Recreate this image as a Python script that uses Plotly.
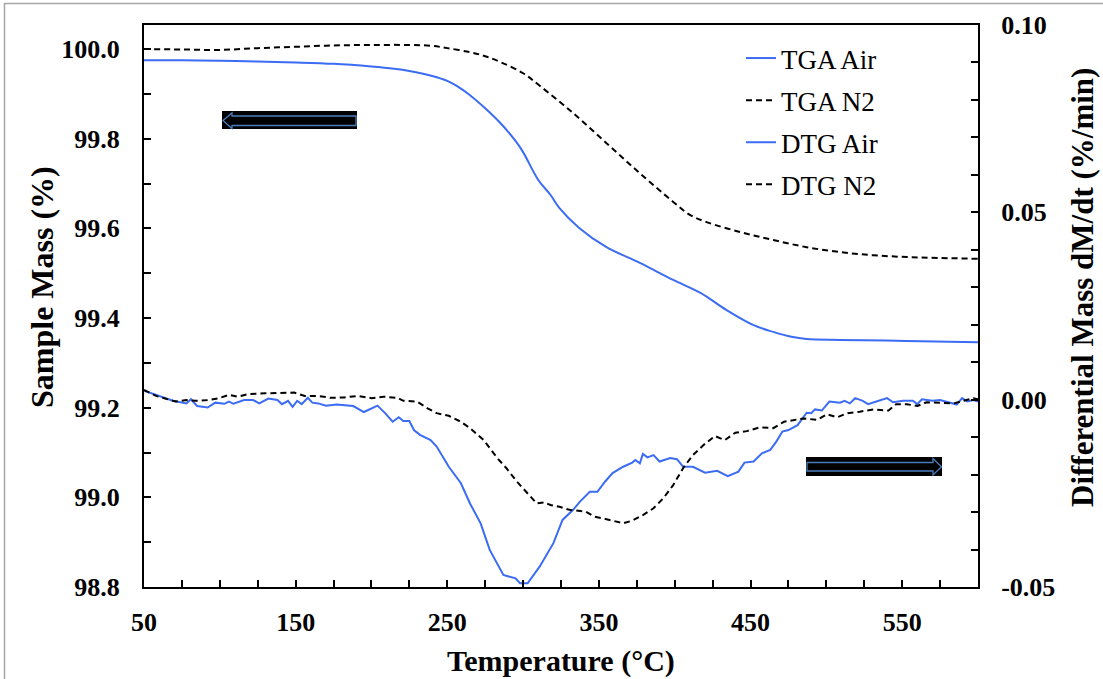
import plotly.graph_objects as go

# ---------------- data ----------------
tga_air_T = [50, 75, 100, 125, 150, 175, 200, 215, 225, 240, 250, 258, 265, 275, 285, 295, 300, 310,
             318, 324, 337, 355, 377, 399, 417, 434, 452, 465, 477, 487, 509, 553, 600]
tga_air_M = [99.975, 99.975, 99.974, 99.972, 99.970, 99.967, 99.961, 99.956, 99.951, 99.940, 99.929,
             99.914, 99.897, 99.868, 99.835, 99.795, 99.770, 99.708, 99.675, 99.645, 99.601, 99.558,
             99.523, 99.485, 99.456, 99.418, 99.384, 99.369, 99.358, 99.353, 99.351, 99.349, 99.346]

tga_n2_T = [50, 75, 100, 125, 150, 175, 200, 225, 240, 250, 265, 275, 285, 300, 311, 332, 355, 377,
            399, 410, 421, 443, 465, 487, 509, 531, 553, 575, 600]
tga_n2_M = [100.000, 99.999, 99.998, 100.002, 100.005, 100.008, 100.009, 100.009, 100.007, 100.002,
            99.993, 99.984, 99.971, 99.946, 99.918, 99.860, 99.790, 99.723, 99.659, 99.630, 99.614,
            99.592, 99.574, 99.558, 99.547, 99.540, 99.536, 99.534, 99.532]

dtg_air_T = [50, 60.5, 69, 78, 81, 85, 92, 97, 103, 106, 109, 116, 122, 126, 132, 138, 141, 145, 148,
             151, 154, 158, 161, 165, 170, 177, 188, 195, 204, 209, 214, 218, 221, 225, 228, 232, 239,
             243, 251, 259, 265, 272, 278, 287, 295, 298, 303, 311, 320, 326, 333, 337.5, 344, 349,
             354, 359, 366, 372, 374, 377, 379, 382, 386, 390, 397, 401.5, 405.5, 412, 420, 428, 435,
             442, 446, 452, 457.5, 463, 467, 471, 475, 481, 487, 490, 492.5, 497, 502, 509, 512, 515.5,
             519, 524, 527.5, 533, 540, 544, 550.5, 557, 560, 563, 570, 575, 580, 586, 589.5, 593, 597, 600]
dtg_air_D = [0.0024, 0.0010, -0.0003, -0.0010, 0.0001, -0.0017, -0.0021, -0.0008, -0.0011, -0.0005,
             -0.0011, -0.0001, -0.0001, -0.0010, 0.0003, -0.0001, -0.0012, -0.0003, -0.0019, -0.0003,
             -0.0012, 0.0005, -0.0008, -0.0010, -0.0016, -0.0013, -0.0017, -0.0033, -0.0016, -0.0036,
             -0.0059, -0.0047, -0.0057, -0.0057, -0.0081, -0.0094, -0.0108, -0.0125, -0.0179, -0.0223,
             -0.0277, -0.0330, -0.0401, -0.0468, -0.0477, -0.0490, -0.0490, -0.0445, -0.0383, -0.0321,
             -0.0294, -0.0272, -0.0246, -0.0246, -0.0219, -0.0196, -0.0179, -0.0168, -0.0161, -0.0170,
             -0.0145, -0.0154, -0.0148, -0.0165, -0.0156, -0.0159, -0.0179, -0.0179, -0.0195, -0.0190,
             -0.0204, -0.0192, -0.0168, -0.0165, -0.0143, -0.0134, -0.0112, -0.0085, -0.0081, -0.0068,
             -0.0035, -0.0036, -0.0026, -0.0029, -0.0005, -0.0008, -0.0003, -0.0010, 0.0004, -0.0003,
             -0.0012, -0.0005, 0.0004, -0.0007, -0.0003, -0.0003, -0.0012, 0.0001, -0.0003, -0.0001,
             -0.0007, -0.0013, 0.0004, -0.0005, -0.0001, -0.0005]

dtg_n2_T = [50, 58, 71, 78, 84, 93, 99.5, 106, 112, 119, 130, 138, 149, 156, 165, 173, 182, 191, 200,
            208, 217, 221, 230, 237, 243, 251, 259, 265, 274, 283, 289, 296, 303, 309, 314, 318, 324,
            330.5, 341.5, 347, 355, 366, 372, 379, 386, 392.5, 399, 405.5, 412, 419, 426.5, 433, 440,
            447.5, 456, 465, 472, 481, 485, 494, 500.5, 507, 514, 522, 531, 541, 546, 553, 560, 566,
            575, 584, 590.5, 597, 600]
dtg_n2_D = [0.0026, 0.0010, -0.0005, -0.0001, -0.0003, -0.0001, 0.0004, 0.0013, 0.0008, 0.0015,
            0.0017, 0.0017, 0.0019, 0.0010, 0.0010, 0.0005, 0.0006, 0.0010, 0.0004, 0.0008, 0.0005,
            -0.0003, -0.0005, -0.0023, -0.0036, -0.0043, -0.0059, -0.0076, -0.0108, -0.0156, -0.0183,
            -0.0219, -0.0250, -0.0277, -0.0274, -0.0281, -0.0286, -0.0294, -0.0299, -0.0312, -0.0319,
            -0.0330, -0.0323, -0.0308, -0.0290, -0.0263, -0.0228, -0.0183, -0.0148, -0.0121, -0.0097,
            -0.0108, -0.0088, -0.0084, -0.0074, -0.0076, -0.0059, -0.0054, -0.0050, -0.0054, -0.0039,
            -0.0047, -0.0036, -0.0032, -0.0026, -0.0029, -0.0012, -0.0012, -0.0017, -0.0007, -0.0008,
            -0.0010, -0.0003, 0.0004, 0.0001]

left_ticks = [98.8, 99.0, 99.2, 99.4, 99.6, 99.8, 100.0]
right_ticks = [-0.05, 0.00, 0.05, 0.10]
x_ticks = [50, 150, 250, 350, 450, 550]

# ---------------- styling ----------------
W, H = 1103, 679
L, R, T, B = 144, 125, 25, 92
PW, PH = W - L - R, H - T - B
BLUE = "#3b6cf3"
FONT = "Liberation Serif"

def px(x):  # screen pixel -> paper fraction
    return (x - L) / PW

def py(y):
    return (H - B - y) / PH

fig = go.Figure()
fig.add_trace(go.Scatter(x=tga_air_T, y=tga_air_M, name="TGA Air", mode="lines", line_shape="spline",
                         line=dict(color=BLUE, width=2), legendgroup="a"))
fig.add_trace(go.Scatter(x=tga_n2_T, y=tga_n2_M, name="TGA N2", mode="lines", line_shape="spline",
                         line=dict(color="black", width=2, dash="6px,4px"), legendgroup="b"))
fig.add_trace(go.Scatter(x=dtg_air_T, y=dtg_air_D, name="DTG Air", mode="lines", yaxis="y2",
                         line=dict(color=BLUE, width=2), legendgroup="c"))
fig.add_trace(go.Scatter(x=dtg_n2_T, y=dtg_n2_D, name="DTG N2", mode="lines", yaxis="y2",
                         line=dict(color="black", width=2, dash="6px,4px"), legendgroup="d"))

tickfont = dict(family=FONT, size=26, color="black", weight="bold")

fig.update_layout(
    width=W, height=H,
    margin=dict(l=L, r=R, t=T, b=B),
    paper_bgcolor="white", plot_bgcolor="white",
    showlegend=True,
    legend=dict(x=px(741), y=py(34), xanchor="left", yanchor="top",
                font=dict(family=FONT, size=27, color="black"),
                bgcolor="rgba(0,0,0,0)", tracegroupgap=4),
    xaxis=dict(range=[50, 600], tickvals=x_ticks, ticktext=[str(v) for v in x_ticks],
               ticks="inside", ticklen=7, tickwidth=2, tickcolor="black",
               minor=dict(dtick=25, tick0=50, ticks="inside", ticklen=7, tickwidth=2, tickcolor="black"),
               showline=True, linecolor="black", linewidth=2, mirror=True,
               showgrid=False, zeroline=False, tickfont=tickfont, ticklabelstandoff=11),
    yaxis=dict(range=[98.8, 100.0536], tickvals=left_ticks, ticktext=[f"{v:.1f}" for v in left_ticks],
               ticks="inside", ticklen=7, tickwidth=2, tickcolor="black",
               minor=dict(dtick=0.1, tick0=98.8, ticks="inside", ticklen=7, tickwidth=2, tickcolor="black"),
               showline=True, linecolor="black", linewidth=2,
               showgrid=False, zeroline=False, tickfont=tickfont, ticklabelstandoff=17),
    yaxis2=dict(range=[-0.05, 0.10], overlaying="y", side="right",
                tickvals=right_ticks, ticktext=[f"{v:.2f}" for v in right_ticks],
                ticks="inside", ticklen=7, tickwidth=2, tickcolor="black",
                minor=dict(dtick=0.01, tick0=-0.05, ticks="inside", ticklen=7, tickwidth=2, tickcolor="black"),
                showline=True, linecolor="black", linewidth=2,
                showgrid=False, zeroline=False, tickfont=tickfont, ticklabelstandoff=16),
)

fig.add_annotation(text="Temperature (°C)", x=0.5, y=py(661), xref="paper", yref="paper",
                   showarrow=False, font=dict(family=FONT, size=30, color="black", weight="bold"),
                   xanchor="center", yanchor="middle")
fig.add_annotation(text="Sample Mass (%)", x=px(42), y=py(287), xref="paper", yref="paper",
                   showarrow=False, font=dict(family=FONT, size=32, color="black", weight="bold"),
                   textangle=-90, xanchor="center", yanchor="middle")
fig.add_annotation(text="Differential Mass dM/dt (%/min)", x=px(1082), y=py(288), xref="paper", yref="paper",
                   showarrow=False, font=dict(family=FONT, size=31, color="black", weight="bold"),
                   textangle=-90, xanchor="center", yanchor="middle")

# outer frame (top + left visible)
fig.add_shape(type="rect", xref="paper", yref="paper", x0=px(4.5), y0=py(700), x1=px(1120), y1=py(3.5),
              line=dict(color="#a6a6a6", width=1.5), layer="below")

# arrow boxes
ARROW = "#4a7ebb"
def poly(pts):
    return "M " + " L ".join(f"{px(a)},{py(b)}" for a, b in pts) + " Z"

fig.add_shape(type="rect", xref="paper", yref="paper", x0=px(222), x1=px(357), y0=py(129), y1=py(111),
              fillcolor="black", line=dict(width=0))
fig.add_shape(type="path", xref="paper", yref="paper",
              path=poly([(223, 120.5), (232, 113), (232, 116), (356, 116), (356, 125.5), (232, 125.5), (232, 128.5)]),
              line=dict(color=ARROW, width=1.3))
fig.add_shape(type="rect", xref="paper", yref="paper", x0=px(806), x1=px(942), y0=py(476), y1=py(457),
              fillcolor="black", line=dict(width=0))
fig.add_shape(type="path", xref="paper", yref="paper",
              path=poly([(807, 462.5), (933, 462.5), (933, 458.5), (941.5, 466.7), (933, 475), (933, 471), (807, 471)]),
              line=dict(color=ARROW, width=1.3))

fig.write_html("out.html", config={"displayModeBar": False},
               post_script="document.body.style.margin='0px';")
